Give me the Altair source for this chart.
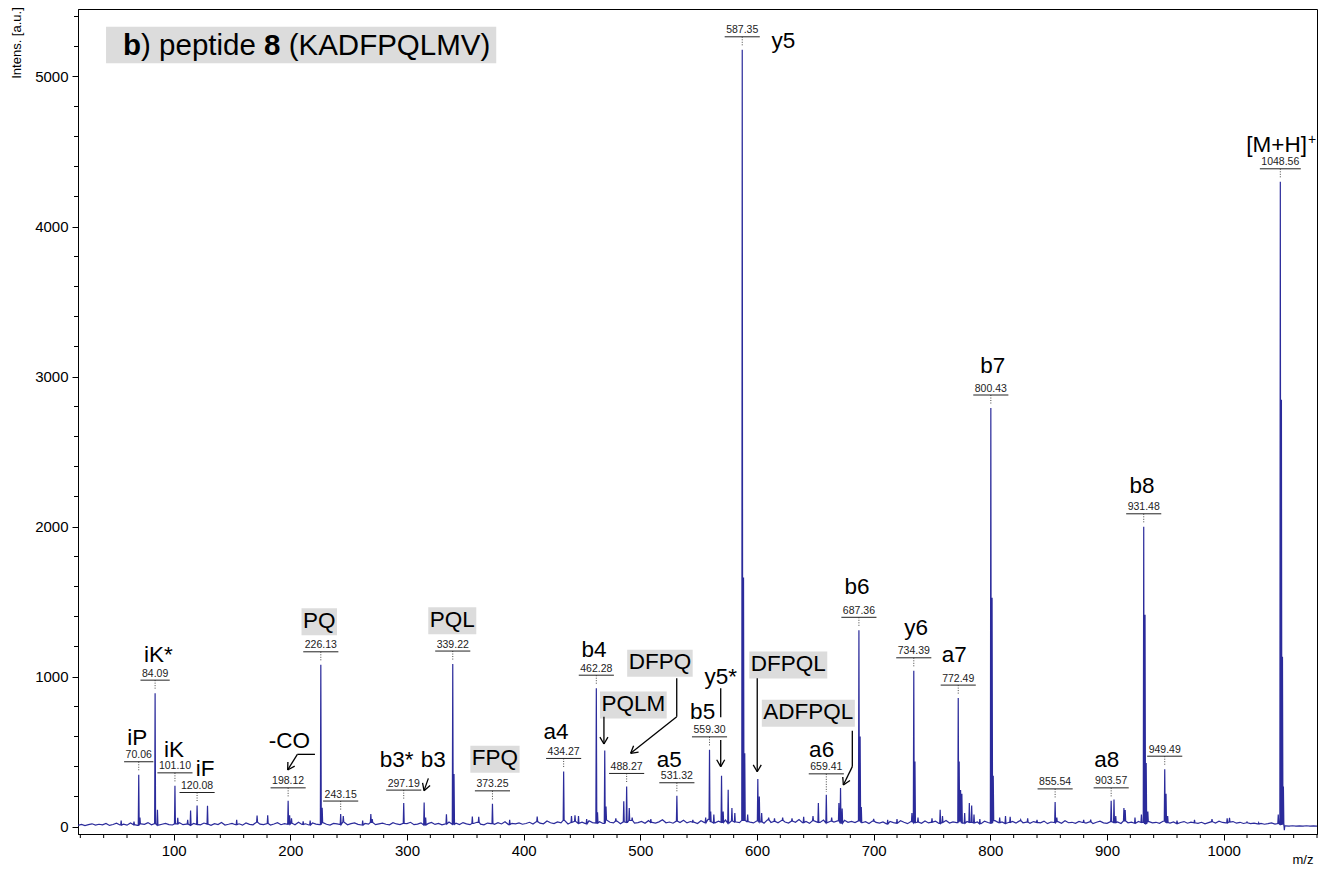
import math
import altair as alt
import pandas as pd

# ---------------- data ----------------
# baseline noise level, one value every 3 m/z starting at m/z 18
baseline_start = 18
baseline_step = 3
baseline = [
    8, 14, 6, 12, 18, 9, 15, 11, 20, 7, 13, 22, 10, 16, 9, 24, 12, 8, 17, 14, 26, 11, 19, 9, 15, 21, 13, 10, 18, 25, 12, 16,
    9, 20, 14, 11, 23, 16, 8, 19, 13, 27, 10, 15, 21, 12, 18, 9, 24, 14, 11, 29, 16, 13, 20, 10, 17, 25, 12, 19, 15, 22, 11, 28,
    14, 18, 10, 23, 16, 12, 26, 15, 9, 21, 17, 13, 30, 11, 19, 24, 14, 10, 20, 16, 27, 12, 18, 22, 15, 11, 25, 17, 13, 21, 19, 28,
    12, 16, 24, 10, 19, 27, 14, 21, 11, 17, 30, 15, 22, 13, 26, 18, 12, 20, 28, 16, 11, 23, 19, 14, 25, 17, 31, 13, 21, 18, 24, 15,
    20, 28, 16, 33, 22, 18, 37, 25, 19, 30, 24, 41, 17, 27, 35, 21, 29, 19, 38, 26, 23, 32, 20, 44, 28, 24, 36, 18, 31, 27, 40, 22,
    26, 34, 21, 39, 28, 23, 31, 45, 25, 30, 22, 36, 27, 42, 24, 33, 29, 20, 38, 26, 47, 31, 24, 35, 28, 43, 22, 37, 30, 26, 41, 33,
    29, 24, 38, 31, 22, 44, 27, 35, 25, 40, 30, 23, 36, 28, 46, 26, 33, 21, 39, 31, 27, 43, 24, 35, 29, 37, 22, 41, 28, 34, 26, 38,
    25, 32, 20, 36, 27, 23, 30, 18, 34, 26, 22, 38, 28, 19, 33, 25, 30, 21, 37, 24, 29, 35, 20, 27, 40, 23, 31, 26, 36, 22, 33, 28,
    24, 30, 19, 35, 27, 22, 39, 26, 31, 20, 28, 34, 23, 37, 25, 29, 21, 33, 27, 24, 36, 19, 30, 26, 32, 22, 38, 25, 28, 21, 34, 27,
    23, 31, 19, 28, 35, 24, 21, 33, 26, 30, 20, 37, 25, 29, 22, 34, 27, 18, 32, 24, 28, 21, 35, 26, 23, 30, 19, 27, 33, 22, 29, 25,
    21, 28, 18, 26, 32, 23, 35, 27, 24, 30, 33, 22, 28, 20, 25, 19, 23, 17, 21, 15, 19, 24, 16, 20, 14, 4, 3, 5, 2, 4, 3, 5, 3, 4, 2,
]

peak_mz = [
    55, 66, 70.06, 71.1, 84.09, 86.1, 101.10, 103.5, 112, 114.5,
    120.08, 129.0, 154, 171.5, 180.6, 198.12, 199.4, 201, 211, 217,
    226.13, 227.3, 243.15, 245.4, 262, 269, 270.2, 297.19, 314.7, 316,
    333.8, 339.22, 340.3, 356, 361.5, 373.25, 388, 411.6, 434.27, 441,
    444, 447, 454, 462.28, 463.3, 469.5, 470.6, 479, 485.8, 488.27,
    490.5, 493, 509, 531.32, 545, 556, 559.30, 560.3, 563, 569.6,
    571, 575.3, 578.5, 581, 587.35, 588.45, 589.5, 592, 600.7, 602,
    604, 610, 615, 622, 630, 640, 648, 652.6, 659.41, 664,
    670.2, 671.6, 673, 687.36, 688.4, 689.4, 700, 712, 720, 732.8,
    734.39, 735.4, 738, 750, 757, 759, 772.49, 773.3, 774.5, 775.6,
    778, 782, 784, 786, 791, 800.43, 801.5, 802.5, 808, 813,
    817, 826, 832, 840, 855.54, 857, 880, 886, 903.57, 906,
    907.5, 914.5, 915.6, 924, 929.5, 931.48, 932.6, 933.6, 935, 949.49,
    950.6, 952, 960, 975, 990, 1003, 1005, 1020, 1030, 1046.8,
    1048.56, 1049.5, 1050.4, 1051.2, 1052,
]
peak_int = [
    40, 32, 345, 60, 889, 111, 271, 58, 45, 107,
    140, 138, 45, 73, 75, 171, 75, 55, 35, 40,
    1078, 125, 83, 70, 40, 83, 50, 156, 160, 60,
    82, 1083, 350, 67, 65, 151, 45, 67, 367, 70,
    75, 70, 50, 922, 95, 507, 133, 55, 169, 267,
    124, 60, 50, 205, 45, 60, 511, 100, 80, 338,
    100, 245, 124, 90, 5178, 1660, 489, 80, 316, 200,
    90, 60, 55, 60, 55, 65, 70, 156, 211, 60,
    157, 256, 120, 1308, 600, 130, 50, 45, 50, 90,
    1038, 433, 60, 55, 111, 70, 856, 433, 244, 218,
    90, 156, 140, 80, 50, 2790, 1525, 338, 60, 70,
    65, 45, 55, 45, 164, 60, 45, 45, 171, 180,
    70, 124, 110, 60, 80, 1998, 1411, 424, 100, 382,
    218, 70, 40, 45, 50, 55, 58, 30, 25, 80,
    4298, 2845, 1131, 267, -25,
]
assert len(peak_mz) == len(peak_int)

mz_labels = ["70.06", "84.09", "101.10", "120.08", "198.12", "226.13", "243.15", "297.19",
             "339.22", "373.25", "434.27", "462.28", "488.27", "531.32", "559.30", "587.35",
             "659.41", "687.36", "734.39", "772.49", "800.43", "855.54", "903.57", "931.48",
             "949.49", "1048.56"]
mz_label_peak = [345, 889, 271, 140, 171, 1078, 83, 156,
                 1083, 151, 367, 922, 267, 205, 511, 5178,
                 211, 1308, 1038, 856, 2790, 164, 171, 1998,
                 382, 4298]

ion_text = ["iP", "iK*", "iK", "iF", "-CO", "PQ", "b3*", "b3", "PQL", "FPQ", "a4", "b4", "DFPQ",
            "PQLM", "a5", "b5", "y5*", "y5", "DFPQL", "ADFPQL", "a6", "b6", "y6", "a7", "b7",
            "a8", "b8", "[M+H]"]
ion_mz = [68.8, 86.8, 100.3, 126.9, 199.1, 224.8, 291.2, 322.5, 338.8, 375.4, 427.7, 460.3, 516.8,
          494.0, 524.8, 553.4, 568.9, 622.5, 626.8, 644.0, 655.4, 685.7, 736.3, 769.1, 802.0,
          899.7, 930.0, 1045.4]
ion_int = [583, 1140, 505, 380, 565, 1365, 435, 435, 1372, 448, 625, 1168, 1088,
           810, 440, 758, 992, 5232, 1077, 755, 505, 1592, 1318, 1135, 3063,
           440, 2265, 4540]
boxed_ions = ["PQ", "PQL", "FPQ", "DFPQ", "PQLM", "DFPQL", "ADFPQL"]

sup_text = "+"
sup_mz = 1075.7
sup_int = 4575

# arrows (m/z, intensity) vertices; the last vertex is the tip
arrow_paths = [
    [(221.1, 481), (206.0, 481), (197.7, 377)],      # -CO
    [(318.3, 321), (314.6, 239)],                    # b3
    [(531.2, 988), (531.2, 732), (491.7, 488)],      # DFPQ
    [(468.8, 732), (468.8, 550)],                    # PQLM
    [(568.9, 577), (568.9, 399)],                    # y5*
    [(600.2, 988), (600.2, 365)],                    # DFPQL
    [(681.7, 639), (681.7, 399), (674.0, 277)],      # ADFPQL
]
leader_paths = [
    [(568.9, 921), (568.9, 728)],                    # y5* leader
]

title_parts = [("b", True), (") peptide ", False), ("8", True), (" (KADFPQLMV)", False)]
title_mz = 56.6
title_int = 5210

y_title = "Intens. [a.u.]"
x_title = "m/z"

# ---------------- geometry helpers ----------------
FONT = "Liberation Sans"
BLUE = "#2B2B9B"
X_DOMAIN = [18, 1080]
Y_DOMAIN = [-50, 5450]
W, H = 1239, 825
PX_X = W / (X_DOMAIN[1] - X_DOMAIN[0])
PX_Y = H / (Y_DOMAIN[1] - Y_DOMAIN[0])


def dxu(px):
    return px / PX_X


def dyu(px):
    return px / PX_Y


def to_px(m, v):
    return ((m - X_DOMAIN[0]) * PX_X, (Y_DOMAIN[1] - v) * PX_Y)


def from_px(px, py):
    return (X_DOMAIN[0] + px / PX_X, Y_DOMAIN[1] - py / PX_Y)


CW = {' ': 278, '\u00a0': 278, '(': 333, ')': 333, '[': 278, ']': 278, '+': 584, '-': 333,
      '*': 389, '.': 278,
      'A': 667, 'C': 722, 'D': 722, 'F': 611, 'H': 722, 'K': 667, 'L': 556, 'M': 833, 'O': 778,
      'P': 667, 'Q': 778, 'V': 667, 'a': 556, 'b': 556, 'd': 556, 'e': 556, 'i': 222, 'p': 556,
      't': 278, 'y': 500}
for c in "0123456789":
    CW[c] = 556
CW_BOLD = {'b': 611, '8': 556}


def text_w(s, fs, bold=False):
    tab = CW_BOLD if bold else CW
    return sum(tab.get(c, CW.get(c, 556)) for c in s) * fs / 1000.0


MZ_FS = 10.5
ION_FS = 22.5
TITLE_FS = 29.5

# ---------------- tables ----------------
pts = []
for i, b in enumerate(baseline):
    m = baseline_start + i * baseline_step
    if all(abs(m - p) > 0.6 for p in peak_mz):
        pts.append((m, b))


def base_at(m):
    i = int(round((m - baseline_start) / baseline_step))
    i = min(max(i, 0), len(baseline) - 1)
    return baseline[i]


HW = 0.4
for m, h in zip(peak_mz, peak_int):
    b = base_at(m)
    pts += [(m - HW, b), (m, h), (m + HW, b)]
pts.sort()
spec_df = pd.DataFrame(pts, columns=["mz", "inten"])

lab_rows, under_rows, dot_rows = [], [], []
for lab, pk in zip(mz_labels, mz_label_peak):
    m = float(lab)
    gap = 21 if lab == "659.41" else 13
    under = pk + dyu(gap)
    w = text_w(lab, MZ_FS) + 3
    lab_rows.append({"mz": m, "y": under + dyu(3.5), "t": lab})
    under_rows.append({"x": m - dxu(w / 2), "x2": m + dxu(w / 2), "y": under})
    dot_rows.append({"x": m, "y": under, "y2": pk + dyu(3)})

ion_df = pd.DataFrame({"mz": ion_mz, "y": ion_int, "t": ion_text})
box_rows = []
for t, m, v in zip(ion_text, ion_mz, ion_int):
    if t in boxed_ions:
        w = text_w(t, ION_FS) + 3
        box_rows.append({"x": m - dxu(w / 2), "x2": m + dxu(w / 2),
                         "y": v - dyu(13.5), "y2": v + dyu(13.5)})

seg_rows = []
for path in arrow_paths + leader_paths:
    for a, b in zip(path[:-1], path[1:]):
        seg_rows.append({"x": a[0], "y": a[1], "x2": b[0], "y2": b[1]})
for path in arrow_paths:
    (ax, ay), (bx, by) = to_px(*path[-2]), to_px(*path[-1])
    ang = math.atan2(by - ay, bx - ax)
    for s in (1, -1):
        a2 = ang + math.pi + s * math.radians(30)
        hx, hy = from_px(bx + 8 * math.cos(a2), by + 8 * math.sin(a2))
        seg_rows.append({"x": path[-1][0], "y": path[-1][1], "x2": hx, "y2": hy})

# title: each run is placed at its own left edge; spaces become gaps
title_rows = []
cur = 0.0
for s, bold in title_parts:
    lead = len(s) - len(s.lstrip(" "))
    cur += lead * text_w(" ", TITLE_FS)
    core = s.strip(" ")
    title_rows.append({"x": title_mz + dxu(cur), "y": title_int,
                       "t": core.replace(" ", "\u00a0"), "bold": bold})
    cur += text_w(core, TITLE_FS, bold)
    trail = len(s) - len(s.rstrip(" "))
    cur += trail * text_w(" ", TITLE_FS)
title_box = pd.DataFrame([{"x": title_mz - dxu(17), "x2": title_mz + dxu(cur + 6),
                           "y": title_int - dyu(18.3), "y2": title_int + dyu(18.3)}])

x_minor = [v for v in range(20, 1081, 20) if v % 100 != 0]
y_minor = [v for v in range(200, 5401, 200) if v % 1000 != 0]

# ---------------- chart ----------------
xs = alt.Scale(domain=X_DOMAIN, nice=False, zero=False)
ys = alt.Scale(domain=Y_DOMAIN, nice=False, zero=False)

line = alt.Chart(spec_df).mark_line(color=BLUE, strokeWidth=1.2, clip=True).encode(
    x=alt.X("mz:Q", scale=xs, axis=alt.Axis(
        values=list(range(100, 1001, 100)), title=None, grid=False, tickSize=6, format="d",
        labelFontSize=15, labelPadding=3)),
    y=alt.Y("inten:Q", scale=ys, axis=alt.Axis(
        values=[0, 1000, 2000, 3000, 4000, 5000], title=None, grid=False, tickSize=6, format="d",
        labelFontSize=15, labelPadding=4)),
    order="mz:Q",
)

boxes = alt.Chart(pd.DataFrame(box_rows)).mark_rect(color="#DCDCDC").encode(
    x=alt.X("x:Q", scale=xs), x2="x2:Q", y=alt.Y("y:Q", scale=ys), y2="y2:Q")

tbox = alt.Chart(title_box).mark_rect(color="#DCDCDC").encode(
    x=alt.X("x:Q", scale=xs), x2="x2:Q", y=alt.Y("y:Q", scale=ys), y2="y2:Q")

dots = alt.Chart(pd.DataFrame(dot_rows)).mark_rule(color="#444444", strokeWidth=1,
                                                     strokeDash=[1, 1.5]).encode(
    x=alt.X("x:Q", scale=xs), y=alt.Y("y:Q", scale=ys), y2="y2:Q")

unders = alt.Chart(pd.DataFrame(under_rows)).mark_rule(color="#222222", strokeWidth=1).encode(
    x=alt.X("x:Q", scale=xs), x2="x2:Q", y=alt.Y("y:Q", scale=ys))

mz_text = alt.Chart(pd.DataFrame(lab_rows)).mark_text(
    font=FONT, fontSize=MZ_FS, color="#222222", align="center", baseline="alphabetic").encode(
    x=alt.X("mz:Q", scale=xs), y=alt.Y("y:Q", scale=ys), text="t:N")

ions = alt.Chart(ion_df).mark_text(
    font=FONT, fontSize=ION_FS, color="black", align="center", baseline="middle", dy=-1).encode(
    x=alt.X("mz:Q", scale=xs), y=alt.Y("y:Q", scale=ys), text="t:N")

sup = alt.Chart(pd.DataFrame([{"mz": sup_mz, "y": sup_int, "t": sup_text}])).mark_text(
    font=FONT, fontSize=14, color="black", align="center", baseline="middle").encode(
    x=alt.X("mz:Q", scale=xs), y=alt.Y("y:Q", scale=ys), text="t:N")

arrows = alt.Chart(pd.DataFrame(seg_rows)).mark_rule(color="black", strokeWidth=1.3).encode(
    x=alt.X("x:Q", scale=xs), x2="x2:Q", y=alt.Y("y:Q", scale=ys), y2="y2:Q")

tdf = pd.DataFrame(title_rows)
t_reg = alt.Chart(tdf[~tdf["bold"]]).mark_text(
    font=FONT, fontSize=TITLE_FS, color="black", align="left", baseline="middle", dy=1).encode(
    x=alt.X("x:Q", scale=xs), y=alt.Y("y:Q", scale=ys), text="t:N")
t_bold = alt.Chart(tdf[tdf["bold"]]).mark_text(
    font=FONT, fontSize=TITLE_FS, fontWeight="bold", color="black", align="left",
    baseline="middle", dy=1).encode(
    x=alt.X("x:Q", scale=xs), y=alt.Y("y:Q", scale=ys), text="t:N")

xmin_ticks = alt.Chart(pd.DataFrame({"v": x_minor})).mark_rule(color="black", strokeWidth=1).encode(
    x=alt.X("v:Q", scale=xs), y=alt.value(H), y2=alt.value(H + 4))
ymin_ticks = alt.Chart(pd.DataFrame({"v": y_minor})).mark_rule(color="black", strokeWidth=1).encode(
    y=alt.Y("v:Q", scale=ys), x=alt.value(-4), x2=alt.value(0))

ytitle = alt.Chart(pd.DataFrame({"t": [y_title]})).mark_text(
    font=FONT, fontSize=13, color="black", angle=270, align="center", baseline="middle").encode(
    x=alt.value(-61), y=alt.value(34), text="t:N")
xtitle = alt.Chart(pd.DataFrame({"t": [x_title]})).mark_text(
    font=FONT, fontSize=13, color="black", align="center", baseline="middle").encode(
    x=alt.value(1225), y=alt.value(H + 26), text="t:N")

chart = alt.layer(
    line, boxes, tbox, dots, unders, mz_text, ions, sup, arrows, t_reg, t_bold,
    xmin_ticks, ymin_ticks, ytitle, xtitle,
).properties(
    width=W, height=H,
    autosize=alt.AutoSizeParams(type="none"),
    padding={"left": 70, "top": 1, "right": 8, "bottom": 34},
).configure_view(
    stroke="black", strokeWidth=1,
).configure_axis(
    labelFont=FONT, labelColor="black",
    domainColor="black", tickColor="black", domainWidth=1, tickWidth=1,
)

chart.save("out.html", embed_options={"renderer": "svg", "actions": False})
